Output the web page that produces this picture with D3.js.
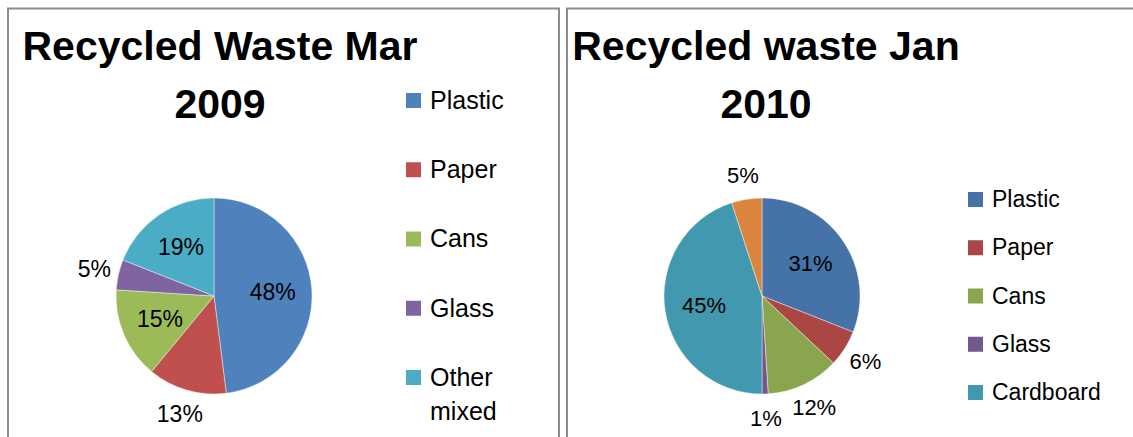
<!DOCTYPE html>
<html>
<head>
<meta charset="utf-8">
<script src="https://cdn.jsdelivr.net/npm/d3@7"></script>
<style>
  body { margin: 0; background: #fff; }
  text { font-family: "Liberation Sans", Arial, sans-serif; fill: #000; }
</style>
</head>
<body>
<div id="chart"></div>
<script>
// data
var categories2009 = ["Plastic", "Paper", "Cans", "Glass", "Other mixed"];
var values2009 = [48, 13, 15, 5, 19];
var colors2009 = ["#4F81BD", "#C0504D", "#9BBB59", "#8064A2", "#4BACC6"];

var categories2010 = ["Plastic", "Paper", "Cans", "Glass", "Cardboard", ""];
var values2010 = [31, 6, 12, 1, 45, 5];
var legend2010 = ["Plastic", "Paper", "Cans", "Glass", "Cardboard"];
var colors2010 = ["#4572A7", "#AA4643", "#89A54E", "#71588F", "#4198AF", "#DB843D"];

var titles = [["Recycled Waste Mar", "2009"], ["Recycled waste Jan", "2010"]];

var W = 1133, H = 437;
var svg = d3.select("#chart").append("svg")
    .attr("width", W)
    .attr("height", H);

svg.append("rect").attr("width", W).attr("height", H).attr("fill", "#fff");

// panel frames
var frame = svg.append("g")
    .attr("fill", "none")
    .attr("stroke", "#8c8c8c")
    .attr("stroke-width", 2);
frame.append("path").attr("d", "M8," + H + "V8.5H559V" + H);
frame.append("path").attr("d", "M567," + H + "V8.5H" + W);

var pie = d3.pie().sort(null).value(function(d) { return d.value; });

function drawPanel(opt) {
    var g = svg.append("g");
    var data = opt.cats.map(function(c, i) { return { name: c, value: opt.values[i], color: opt.colors[i] }; });
    var r = opt.r;
    var arc = d3.arc().innerRadius(0).outerRadius(r);

    // title
    g.append("text")
        .attr("x", opt.titleX).attr("y", 60)
        .attr("text-anchor", "middle")
        .style("font-weight", "bold")
        .style("font-size", "41px")
        .text(opt.title[0]);
    g.append("text")
        .attr("x", opt.titleX).attr("y", 118)
        .attr("text-anchor", "middle")
        .style("font-weight", "bold")
        .style("font-size", "41px")
        .text(opt.title[1]);

    var pg = g.append("g").attr("transform", "translate(" + opt.cx + "," + opt.cy + ")");
    var arcs = pie(data);

    pg.selectAll("path.slice")
        .data(arcs)
      .enter().append("path")
        .attr("class", "slice")
        .attr("d", arc)
        .attr("fill", function(d) { return d.data.color; })
        .attr("stroke", "#fff")
        .attr("stroke-width", 0.6)
        .attr("stroke-opacity", 0.7);

    // labels: big slices inside, small ones outside
    pg.selectAll("text.lbl")
        .data(arcs)
      .enter().append("text")
        .attr("class", "lbl")
        .attr("text-anchor", "middle")
        .attr("dy", "0.35em")
        .style("font-size", opt.labelSize + "px")
        .attr("transform", function(d) {
            var a = (d.startAngle + d.endAngle) / 2;
            var lr = d.data.value >= 14 ? r * 0.6 : r * 1.25;
            return "translate(" + (Math.sin(a) * lr) + "," + (-Math.cos(a) * lr) + ")";
        })
        .text(function(d) { return d.data.value + "%"; });

    // legend
    var ly = d3.scalePoint().domain(opt.legend).range(opt.legendRange);
    var lg = g.selectAll(".legend")
        .data(opt.legend)
      .enter().append("g")
        .attr("class", "legend")
        .attr("transform", function(d) { return "translate(" + opt.legendX + "," + ly(d) + ")"; });

    lg.append("rect")
        .attr("x", 0).attr("y", -7)
        .attr("width", 15).attr("height", 15)
        .attr("fill", function(d, i) { return opt.colors[i]; });

    lg.append("text")
        .attr("x", 24)
        .attr("dy", "0.35em")
        .style("font-size", opt.legendSize + "px")
        .each(function(d) {
            var words = d.split(" ");
            var t = d3.select(this);
            if (words.length > 1 && opt.wrap) {
                words.forEach(function(w, k) {
                    t.append("tspan").attr("x", 24).attr("dy", k == 0 ? "0.35em" : "1.36em").text(w);
                });
            } else {
                t.text(d);
            }
        });
}

drawPanel({
    cats: categories2009, values: values2009, colors: colors2009,
    legend: categories2009, title: titles[0],
    titleX: 220, cx: 214, cy: 296, r: 98,
    labelSize: 23, legendSize: 25,
    legendX: 406, legendRange: [100, 377], wrap: true
});

drawPanel({
    cats: categories2010, values: values2010, colors: colors2010,
    legend: legend2010, title: titles[1],
    titleX: 766, cx: 762, cy: 296, r: 98,
    labelSize: 22, legendSize: 23,
    legendX: 968, legendRange: [199, 392], wrap: false
});
</script>
</body>
</html>
